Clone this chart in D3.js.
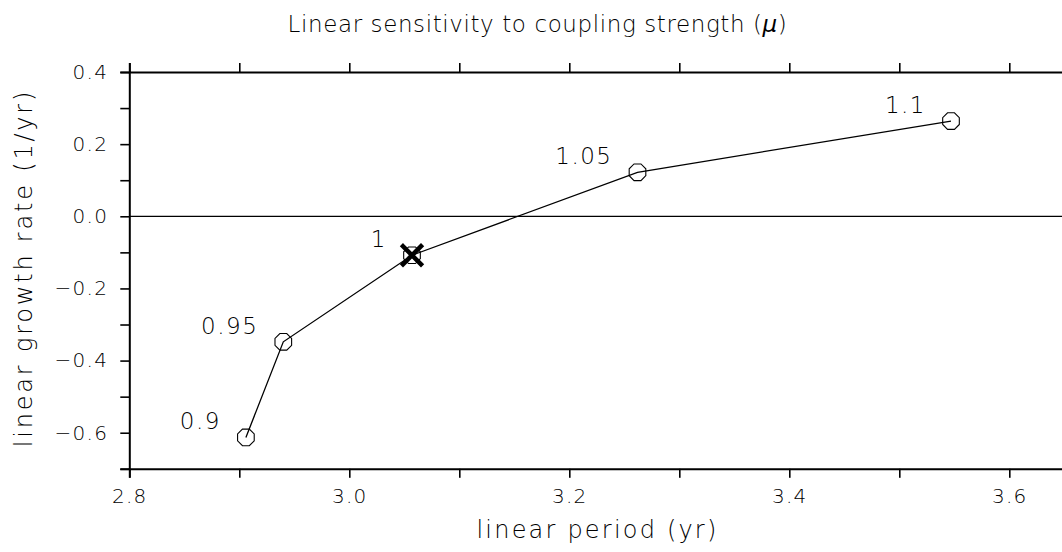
<!DOCTYPE html>
<html>
<head>
<meta charset="utf-8">
<script src="https://cdn.jsdelivr.net/npm/d3@7"></script>
<style>
  html, body { margin: 0; padding: 0; background: #fff; }
  svg { display: block; }
  text { font-family: "DejaVu Sans", "Liberation Sans", sans-serif; font-weight: 200; fill: #000; }
</style>
</head>
<body>
<svg id="chart" width="1062" height="552"></svg>
<script>
// Coupling strength (mu) runs, with resulting linear period and growth rate
const couplingLabels = ["0.9", "0.95", "1", "1.05", "1.1"];
const periods = [2.906, 2.940, 3.057, 3.262, 3.547];
const growthRates = [-0.613, -0.348, -0.108, 0.122, 0.264];
const referenceRun = "1";

// Axis ticks
const xMajorTicks = [2.8, 3.0, 3.2, 3.4, 3.6];
const xMinorTicks = [2.9, 3.1, 3.3, 3.5];
const yMajorTicks = [-0.6, -0.4, -0.2, 0.0, 0.2, 0.4];
const yMinorTicks = [-0.7, -0.5, -0.3, -0.1, 0.1, 0.3];

const xDomain = [2.8, 3.65];
const yDomain = [-0.7, 0.4];

(function draw() {
const svg = d3.select("#chart");
const plotLeft = 129.3, plotTop = 72, plotBottom = 468.8;
const plotRight = plotLeft + (xDomain[1] - xDomain[0]) * 1100;

const x = d3.scaleLinear().domain(xDomain).range([plotLeft, plotRight]);
const y = d3.scaleLinear().domain(yDomain).range([plotBottom, plotTop]);
const fmt = d3.format(".1f");

function styleAxis(g) {
  g.select(".domain").attr("stroke", "#000").attr("stroke-width", 2);
  g.selectAll(".tick line").attr("stroke", "#000").attr("stroke-width", 1.6);
  g.selectAll(".tick text")
    .attr("font-size", 20)
    .attr("letter-spacing", 1.3)
    .style("font-family", '"DejaVu Sans", sans-serif')
    .style("font-weight", 200)
    .attr("fill", "#000");
}

const allX = xMajorTicks.concat(xMinorTicks).sort(d3.ascending);
const allY = yMajorTicks.concat(yMinorTicks).sort(d3.ascending);
const isMajor = (list) => (d) => list.some(v => Math.abs(v - d) < 1e-9);

// Bottom axis with labels on major ticks
svg.append("g")
  .attr("transform", `translate(0,${plotBottom})`)
  .call(d3.axisBottom(x).tickValues(allX).tickSize(9).tickPadding(11)
    .tickFormat(d => isMajor(xMajorTicks)(d) ? fmt(d) : ""))
  .call(styleAxis);

// Top axis, ticks only
svg.append("g")
  .attr("transform", `translate(0,${plotTop})`)
  .call(d3.axisTop(x).tickValues(allX).tickSize(9).tickFormat(""))
  .call(styleAxis);

// Left axis with labels on major ticks
svg.append("g")
  .attr("transform", `translate(${plotLeft},0)`)
  .call(d3.axisLeft(y).tickValues(allY).tickSize(9).tickPadding(12)
    .tickFormat(d => isMajor(yMajorTicks)(d) ? fmt(d) : ""))
  .call(styleAxis);

// Zero growth reference line
svg.append("line")
  .attr("x1", plotLeft).attr("x2", plotRight)
  .attr("y1", y(0)).attr("y2", y(0))
  .attr("stroke", "#000").attr("stroke-width", 1.2);

const pts = couplingLabels.map((label, i) => ({ label, p: periods[i], g: growthRates[i] }));

// Connecting line
svg.append("path")
  .datum(pts)
  .attr("fill", "none")
  .attr("stroke", "#000")
  .attr("stroke-width", 1.3)
  .attr("d", d3.line().x(d => x(d.p)).y(d => y(d.g)));

// Octagon markers
const octagon = d3.range(8).map(k => {
  const a = Math.PI / 8 + k * Math.PI / 4;
  return [9 * Math.cos(a), 9 * Math.sin(a)];
});
svg.selectAll("path.marker")
  .data(pts)
  .join("path")
  .attr("class", "marker")
  .attr("transform", d => `translate(${x(d.p)},${y(d.g)})`)
  .attr("d", "M" + octagon.join("L") + "Z")
  .attr("fill", "none")
  .attr("stroke", "#000")
  .attr("stroke-width", 1.1);

// Bold cross on the reference run
const ref = pts.find(d => d.label === referenceRun);
const cross = svg.append("g").attr("transform", `translate(${x(ref.p)},${y(ref.g)})`);
[[-9, -9, 9, 9], [-9, 9, 9, -9]].forEach(([x1, y1, x2, y2]) => {
  cross.append("line")
    .attr("x1", x1).attr("y1", y1).attr("x2", x2).attr("y2", y2)
    .attr("stroke", "#000").attr("stroke-width", 4.5).attr("stroke-linecap", "square");
});

// Point labels
svg.selectAll("text.pt")
  .data(pts)
  .join("text")
  .attr("class", "pt")
  .attr("x", d => x(d.p) - 25)
  .attr("y", d => y(d.g) - 8)
  .attr("text-anchor", "end")
  .attr("font-size", 23)
  .attr("letter-spacing", 1.5)
  .text(d => d.label);

// Title
const title = svg.append("text")
  .attr("x", 537.5).attr("y", 32)
  .attr("text-anchor", "middle")
  .attr("font-size", 23)
  .attr("letter-spacing", 0.6);
title.append("tspan").text("Linear sensitivity to coupling strength (");
title.append("tspan").attr("font-style", "italic").text("μ");
title.append("tspan").text(")");

// Axis titles
svg.append("text")
  .attr("x", 597.5).attr("y", 538)
  .attr("text-anchor", "middle")
  .attr("font-size", 24)
  .attr("letter-spacing", 2.2)
  .text("linear period (yr)");

svg.append("text")
  .attr("transform", `translate(32,268) rotate(-90)`)
  .attr("text-anchor", "middle")
  .attr("font-size", 24)
  .attr("letter-spacing", 2.8)
  .text("linear growth rate (1/yr)");
})();
</script>
</body>
</html>
